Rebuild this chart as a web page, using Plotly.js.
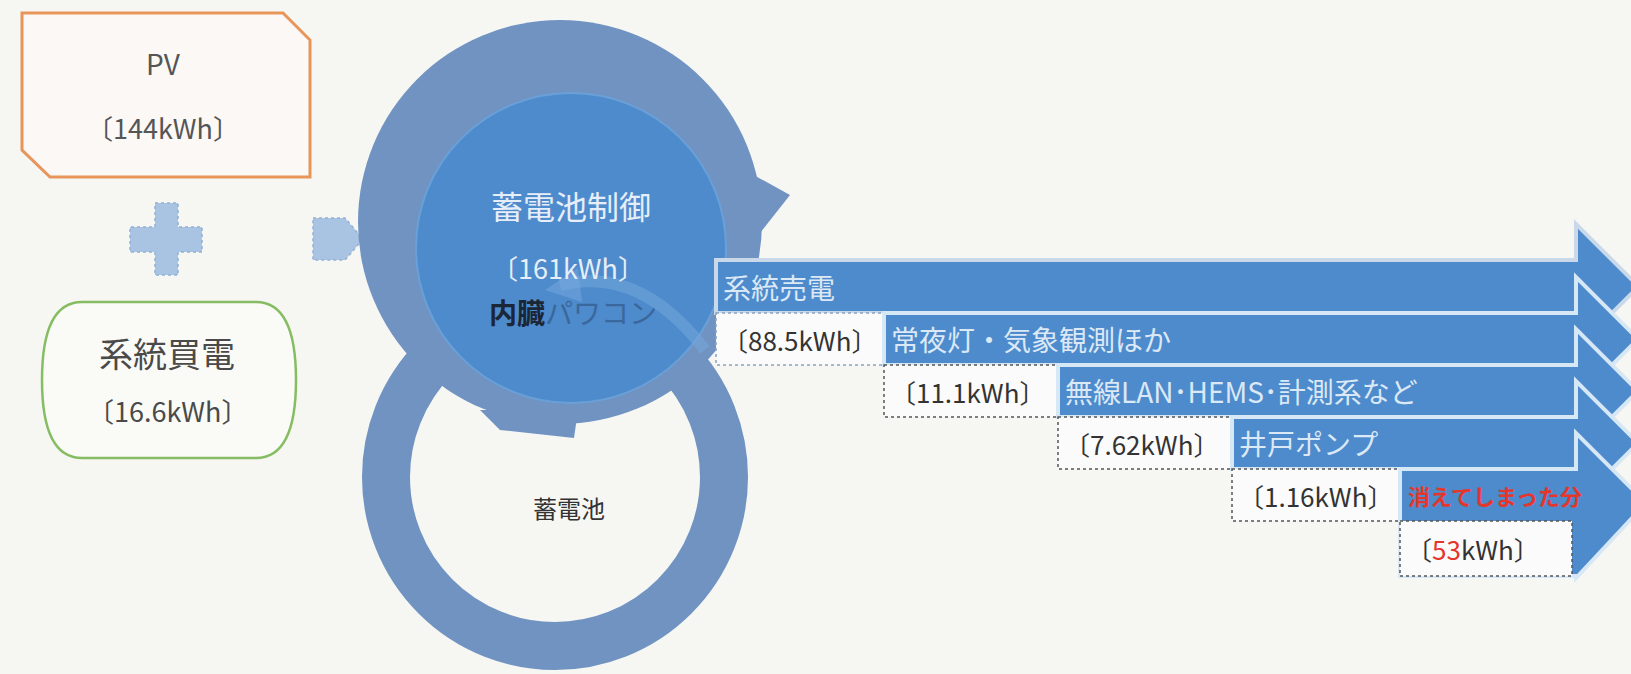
<!DOCTYPE html>
<html>
<head>
<meta charset="utf-8">
<script src="https://cdn.plot.ly/plotly-3.0.1.min.js"></script>
<style>html,body{margin:0;padding:0;background:#f6f6f3;}#chart{width:1631px;height:674px;}</style>
</head>
<body>
<div id="chart"></div>
<script>
// ---- data ----
const sourceLabels = ['PV', '系統買電'];
const sourceValues = [144, 16.6];
const controlLabel = '蓄電池制御';
const controlValue = 161;
const inverterLabel = ['内臓', 'パワコン'];
const batteryLabel = '蓄電池';
const flowLabels = ['系統売電', '常夜灯・気象観測ほか', '無線LAN･HEMS･計測系など', '井戸ポンプ', '消えてしまった分'];
const flowValues = [88.5, 11.1, 7.62, 1.16, 53];
const unit = 'kWh';

// ---- layout geometry (pixel space) ----
const W = 1631, H = 674;
const L = [716, 884, 1058, 1232, 1400];
const R = [260, 313, 365, 417, 469, 521, 576];
const XE = 1576;
const BLUE = '#4e8bcc';
const RING = '#7093c2';
const SEP = '#d6e7f6';
const JP = 'Noto Sans CJK JP';
const NARROW = 'Liberation Sans Narrow, Noto Sans CJK JP';

const shapes = [];
const ann = [];

function txt(x, y, text, size, color, opts) {
  ann.push(Object.assign({x: x, y: y, xref: 'x', yref: 'y', text: text, showarrow: false,
    font: {family: JP, size: size, color: color}, xanchor: 'center', yanchor: 'middle'}, opts || {}));
}

// PV box
shapes.push({type: 'path', path: 'M 22,13 L 283,13 L 310,40 L 310,177 L 50,177 L 22,150 Z',
  fillcolor: '#fbf8f5', line: {color: '#e8955a', width: 3}});
txt(163, 63, sourceLabels[0], 28, '#555555');
txt(163, 127, '〔' + sourceValues[0] + unit + '〕', 27, '#555555');

// plus sign
shapes.push({type: 'path', path: 'M 155,203 L 178,203 L 178,227 L 202,227 L 202,252 L 178,252 L 178,275 L 155,275 L 155,252 L 130,252 L 130,227 L 155,227 Z',
  fillcolor: '#a9c3e3', line: {color: '#93b1d8', width: 1.5, dash: 'dot'}});

// grid purchase box
shapes.push({type: 'path', path: 'M 82,302 L 256,302 Q 296,302 296,380 Q 296,458 256,458 L 82,458 Q 42,458 42,380 Q 42,302 82,302 Z',
  fillcolor: '#fafaf7', line: {color: '#86bd63', width: 2.5}});
txt(167, 352, sourceLabels[1], 34, '#4a4a4a');
txt(167, 410, '〔' + sourceValues[1] + unit + '〕', 27, '#4a4a4a');

// small arrow
shapes.push({type: 'path', path: 'M 313,218 L 345,218 L 363,239 L 345,260 L 313,260 Z',
  fillcolor: '#a9c3e3', line: {color: '#93b1d8', width: 1.5, dash: 'dot'}});

// lower ring
shapes.push({type: 'circle', x0: 555 - 169, x1: 555 + 169, y0: 477 - 169, y1: 477 + 169,
  line: {color: RING, width: 48}});
// upper ring (filled, disc sits on top)
shapes.push({type: 'circle', x0: 560 - 202, x1: 560 + 202, y0: 222 - 202, y1: 222 + 202,
  fillcolor: RING, line: {width: 0}});
// upper ring arrowhead
shapes.push({type: 'path', path: 'M 690,140 L 790,195 L 742,256 Z', fillcolor: RING, line: {width: 0}});
// small tail below the disc
shapes.push({type: 'path', path: 'M 480,410 L 578,410 L 574,438 L 500,430 Z', fillcolor: RING, line: {width: 0}});

// control disc
shapes.push({type: 'circle', x0: 416, x1: 726, y0: 93, y1: 403, fillcolor: BLUE,
  line: {color: '#6aa0d8', width: 2}});
// faint inner curved arrow
shapes.push({type: 'path', path: 'M 560,285 Q 640,265 705,350', line: {color: '#74a7dc', width: 12}, opacity: 0.55});
shapes.push({type: 'path', path: 'M 545,290 L 578,268 L 582,302 Z', fillcolor: '#74a7dc', line: {width: 0}, opacity: 0.55});

txt(571, 205, controlLabel, 32, '#e6eef9');
txt(568, 267, '〔' + controlValue + unit + '〕', 27, '#e6eef9');
txt(573, 312, '<b><span style="color:#1b2636">' + inverterLabel[0] + '</span></b><span style="color:#3a679c">' + inverterLabel[1] + '</span>', 28, '#1b2636');
txt(569, 507, batteryLabel, 24, '#333333');

// flow bands (stepped arrows)
flowLabels.forEach(function (lab, i) {
  const last = i === flowLabels.length - 1;
  const top = R[i];
  const bot = last ? R[6] : R[i + 1];
  const tp = top - 36;
  let bp, tx, ty;
  if (last) { bp = 578; tx = 1646; ty = 503; }
  else { bp = bot + 36; tx = XE + (bp - tp) / 2; ty = (top + bot) / 2; }
  shapes.push({type: 'path',
    path: 'M ' + L[i] + ',' + top + ' L ' + XE + ',' + top + ' L ' + XE + ',' + tp + ' L ' + tx + ',' + ty +
      ' L ' + XE + ',' + bp + ' L ' + XE + ',' + bot + ' L ' + L[i] + ',' + bot + ' Z',
    fillcolor: BLUE, line: {color: i === 0 ? '#c9d9ea' : SEP, width: 4}});
  // value box
  const bx1 = last ? 1572 : L[i + 1];
  shapes.push({type: 'rect', x0: L[i], x1: bx1, y0: R[i + 1], y1: R[i + 2],
    fillcolor: '#fbfbfb', line: {color: i === 0 ? '#8aa2bf' : '#555555', width: 1.5, dash: 'dot'}});
  // labels
  const ly = (R[i] + R[i + 1]) / 2;
  if (last) {
    txt(L[i] + 6, ly, '<b>' + lab + '</b>', 22, '#e5362c', {xanchor: 'left'});
  } else {
    txt(L[i] + 5, ly, lab, 28, '#dbe8f6', {xanchor: 'left'});
  }
  const vy = (R[i + 1] + R[i + 2]) / 2;
  const vtxt = last
    ? '〔<span style="color:#e5362c">' + flowValues[i] + '</span>' + unit + '〕'
    : '〔' + flowValues[i] + unit + '〕';
  ann.push({x: L[i] + 4, y: vy, xref: 'x', yref: 'y', text: vtxt, showarrow: false,
    font: {family: NARROW, size: 26, color: '#333333'}, xanchor: 'left', yanchor: 'middle'});
});

const layout = {
  width: W, height: H,
  margin: {l: 0, r: 0, t: 0, b: 0},
  paper_bgcolor: '#f6f6f3', plot_bgcolor: '#f6f6f3',
  xaxis: {range: [0, W], visible: false, fixedrange: true},
  yaxis: {range: [H, 0], visible: false, fixedrange: true},
  shapes: shapes, annotations: ann, showlegend: false
};
Plotly.newPlot('chart', [], layout, {displayModeBar: false, staticPlot: true});
</script>
</body>
</html>
